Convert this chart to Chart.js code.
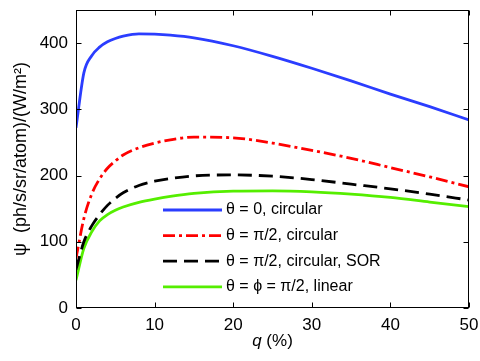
<!DOCTYPE html>
<html>
<head>
<meta charset="utf-8">
<script src="https://cdn.jsdelivr.net/npm/chart.js@4.4.0/dist/chart.umd.min.js"></script>
<style>
  html, body { margin: 0; padding: 0; background: #fff; }
  #wrap { width: 480px; height: 361px; }
</style>
</head>
<body>
<div id="wrap"><canvas id="c" width="480" height="361"></canvas></div>
<script>
// ---- data ----
const q = [0, 1, 2, 3, 4, 5, 6, 8, 10, 12, 15, 20, 25, 30, 35, 40, 45, 50];
const psiTheta0Circ = [272, 355, 381, 394, 402, 407, 410.5, 414, 413.5, 412, 408, 396, 380, 362, 343, 323, 304, 284];
const psiThetaPi2Circ = [75, 135, 172, 195, 211, 222, 231, 242, 249, 254, 258, 257, 249, 238, 226, 212, 198, 183];
const psiThetaPi2CircSOR = [58, 100, 124, 141, 155, 165.5, 174, 185, 191.5, 195.5, 199.5, 201, 199, 194, 187, 180, 172, 163];
const psiLinear = [42, 90, 115, 131.5, 141, 147.5, 152.5, 159.5, 164.5, 168.5, 173, 176.5, 177, 175.5, 172, 167, 160, 153];
const seriesLabels = ['θ = 0, circular', 'θ = π/2, circular', 'θ = π/2, circular, SOR', 'θ = ϕ = π/2, linear'];
const xTicks = [0, 10, 20, 30, 40, 50];
const yTicks = [0, 100, 200, 300, 400];
const xTitleItalic = 'q';
const xTitleRest = ' (%)';
const yTitle = 'ψ  (ph/s/sr/atom)/(W/m²)';

const FONT = '"Liberation Sans", Arial, Helvetica, sans-serif';
const pts = arr => q.map((x, i) => ({ x: x, y: arr[i] }));

const styles = [
  { color: '#2b3dff', dash: [] },
  { color: '#ff0000', dash: [12, 4, 3, 4] },
  { color: '#000000', dash: [14, 7] },
  { color: '#55ee00', dash: [] }
];
const series = [psiTheta0Circ, psiThetaPi2Circ, psiThetaPi2CircSOR, psiLinear];

const datasets = series.map((s, i) => ({
  label: seriesLabels[i],
  data: pts(s),
  borderColor: styles[i].color,
  borderDash: styles[i].dash,
  borderWidth: 2.8,
  pointRadius: 0,
  fill: false,
  cubicInterpolationMode: 'monotone'
}));

function noPad(s) {
  s.paddingLeft = 0; s.paddingRight = 0; s.paddingTop = 0; s.paddingBottom = 0;
}

const framePlugin = {
  id: 'frame',
  afterDraw(chart) {
    const ctx = chart.ctx;
    const a = chart.chartArea;
    const xs = chart.scales.x, ys = chart.scales.y;
    ctx.save();
    ctx.strokeStyle = '#000';
    ctx.lineWidth = 1;
    ctx.setLineDash([]);
    const L = Math.round(a.left) + 0.5, R = Math.round(a.right) - 0.5;
    const T = Math.round(a.top) + 0.5, B = Math.round(a.bottom) - 0.5;
    ctx.strokeRect(L, T, R - L, B - T);
    const tl = 5;
    ctx.beginPath();
    xTicks.forEach(v => {
      const px = Math.round(xs.getPixelForValue(v)) + 0.5;
      ctx.moveTo(px, B); ctx.lineTo(px, B - tl);
      ctx.moveTo(px, T); ctx.lineTo(px, T + tl);
    });
    yTicks.forEach(v => {
      const py = Math.round(ys.getPixelForValue(v)) + 0.5;
      ctx.moveTo(L, py); ctx.lineTo(L + tl, py);
      ctx.moveTo(R, py); ctx.lineTo(R - tl, py);
    });
    ctx.stroke();

    // legend inside plot
    const lx0 = 163, lx1 = 222, tx = 226, y0 = 210, dy = 25.6;
    chart.data.datasets.forEach((d, i) => {
      const y = y0 + i * dy;
      ctx.beginPath();
      ctx.strokeStyle = d.borderColor;
      ctx.lineWidth = d.borderWidth;
      ctx.setLineDash(d.borderDash || []);
      ctx.moveTo(lx0, y); ctx.lineTo(lx1, y);
      ctx.stroke();
      ctx.setLineDash([]);
      ctx.fillStyle = '#000';
      ctx.font = '16px ' + FONT;
      ctx.textBaseline = 'middle';
      ctx.textAlign = 'left';
      ctx.fillText(d.label, tx, y);
    });

    // x-axis title with italic q
    ctx.fillStyle = '#000';
    ctx.textBaseline = 'middle';
    ctx.textAlign = 'left';
    const fItal = 'italic 17px ' + FONT, fNorm = '17px ' + FONT;
    ctx.font = fItal; const w1 = ctx.measureText(xTitleItalic).width;
    ctx.font = fNorm; const w2 = ctx.measureText(xTitleRest).width;
    const cx = (a.left + a.right) / 2;
    let sx = cx - (w1 + w2) / 2;
    ctx.font = fItal; ctx.fillText(xTitleItalic, sx, 341);
    ctx.font = fNorm; ctx.fillText(xTitleRest, sx + w1, 341);
    ctx.restore();
  }
};

new Chart(document.getElementById('c'), {
  type: 'line',
  data: { datasets: datasets },
  options: {
    responsive: false,
    animation: false,
    layout: { padding: { top: 10, right: 11, left: 0, bottom: 0 } },
    plugins: { legend: { display: false }, tooltip: { enabled: false } },
    scales: {
      x: {
        type: 'linear',
        min: 0, max: 50,
        afterFit(s) { s.height = 53; noPad(s); },
        afterBuildTicks(s) { s.ticks = xTicks.map(v => ({ value: v })); },
        grid: { display: false, drawTicks: false },
        border: { display: false },
        ticks: { color: '#000', padding: 7, maxRotation: 0, font: { family: FONT, size: 17 } }
      },
      y: {
        type: 'linear',
        min: 0, max: 450,
        afterFit(s) { s.width = 76; noPad(s); },
        afterBuildTicks(s) { s.ticks = yTicks.map(v => ({ value: v })); },
        grid: { display: false, drawTicks: false },
        border: { display: false },
        ticks: { color: '#000', padding: 8, font: { family: FONT, size: 17 } },
        title: {
          display: true,
          text: yTitle,
          color: '#000',
          font: { family: FONT, size: 18 },
          padding: { top: 10, bottom: 0 }
        }
      }
    }
  },
  plugins: [framePlugin]
});
</script>
</body>
</html>
